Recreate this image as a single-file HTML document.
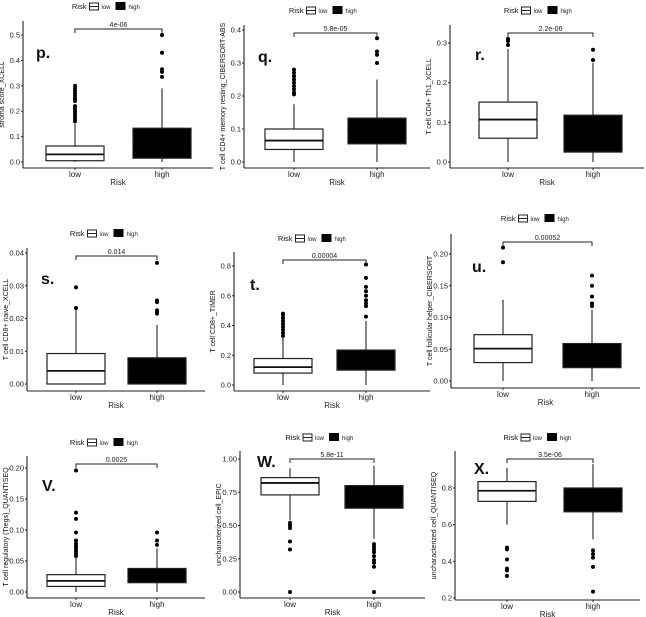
<!DOCTYPE html>
<html><head><meta charset="utf-8"><style>
body{margin:0;background:#fff;}
svg{display:block;font-family:"Liberation Sans",sans-serif;}
</style></head><body>
<svg id="fig" width="646" height="617" viewBox="0 0 646 617" xmlns="http://www.w3.org/2000/svg"></svg>
<script>
// ---- data (min, q1, median, q3, max) ----
const groups = ["low","high"];
const pLow=[0,0.005,0.03,0.063,0.15], pHigh=[0,0.015,0.06,0.133,0.29];
const pLowOut=[0.16,0.17,0.18,0.19,0.2,0.21,0.22,0.24,0.25,0.26,0.27,0.28,0.29,0.3], pHighOut=[0.335,0.355,0.365,0.43,0.5];
const pTicks=[0,0.1,0.2,0.3,0.4,0.5], pTickLabels=["0.0","0.1","0.2","0.3","0.4","0.5"];
const qLow=[0,0.038,0.065,0.1,0.175], qHigh=[0,0.055,0.1,0.133,0.25];
const qLowOut=[0.205,0.21,0.22,0.23,0.24,0.25,0.26,0.27,0.28], qHighOut=[0.3,0.325,0.335,0.375];
const qTicks=[0,0.1,0.2,0.3,0.4], qTickLabels=["0.0","0.1","0.2","0.3","0.4"];
const rLow=[0,0.06,0.107,0.151,0.285], rHigh=[0,0.025,0.095,0.118,0.25];
const rLowOut=[0.295,0.305,0.31], rHighOut=[0.257,0.283];
const rTicks=[0,0.1,0.2,0.3], rTickLabels=["0.0","0.1","0.2","0.3"];
const sLow=[0,0,0.004,0.0093,0.023], sHigh=[0,0,0.004,0.008,0.018];
const sLowOut=[0.0232,0.0295], sHighOut=[0.0215,0.022,0.0225,0.025,0.0255,0.037];
const sTicks=[0,0.01,0.02,0.03,0.04], sTickLabels=["0.00","0.01","0.02","0.03","0.04"];
const tLow=[0,0.08,0.12,0.178,0.32], tHigh=[0,0.1,0.17,0.235,0.43];
const tLowOut=[0.33,0.35,0.37,0.39,0.41,0.43,0.45,0.47,0.48], tHighOut=[0.46,0.53,0.55,0.57,0.6,0.63,0.66,0.72,0.81];
const tTicks=[0,0.2,0.4,0.6,0.8], tTickLabels=["0.0","0.2","0.4","0.6","0.8"];
const uLow=[0,0.029,0.051,0.073,0.128], uHigh=[0,0.021,0.04,0.059,0.112];
const uLowOut=[0.187,0.21], uHighOut=[0.118,0.122,0.133,0.15,0.166];
const uTicks=[0,0.05,0.1,0.15,0.2], uTickLabels=["0.00","0.05","0.10","0.15","0.20"];
const vLow=[0,0.009,0.018,0.028,0.056], vHigh=[0,0.015,0.03,0.038,0.07];
const vLowOut=[0.058,0.062,0.066,0.07,0.074,0.078,0.083,0.096,0.118,0.128,0.196], vHighOut=[0.076,0.083,0.096];
const vTicks=[0,0.05,0.1,0.15,0.2], vTickLabels=["0.00","0.05","0.10","0.15","0.20"];
const wLow=[0.54,0.73,0.82,0.86,0.93], wHigh=[0.4,0.63,0.75,0.8,0.95];
const wLowOut=[0,0.32,0.38,0.48,0.5,0.52], wHighOut=[0,0.19,0.22,0.24,0.27,0.3,0.32,0.34,0.36];
const wTicks=[0,0.25,0.5,0.75,1.0], wTickLabels=["0.00","0.25","0.50","0.75","1.00"];
const xLow=[0.6,0.727,0.785,0.835,0.91], xHigh=[0.52,0.67,0.75,0.8,0.93];
const xLowOut=[0.32,0.35,0.36,0.41,0.465,0.475], xHighOut=[0.235,0.37,0.42,0.44,0.46];
const xTicks=[0.2,0.4,0.6,0.8], xTickLabels=["0.2","0.4","0.6","0.8"];
const pvals=["4e-06","5.8e-05","2.2e-06","0.014","0.00004","0.00052","0.0025","5.8e-11","3.5e-06"];

const NS="http://www.w3.org/2000/svg";
const svg=document.getElementById('fig');
function mk(tag,attrs,parent,text){const e=document.createElementNS(NS,tag);for(const k in attrs)e.setAttribute(k,attrs[k]);if(text!==undefined)e.textContent=text;(parent||svg).appendChild(e);return e;}

const panels=[
 {id:"p",lab:"p.",yt:"stroma score_XCELL",ax:23,xy:168,right:213,v0:0,y0:162,v1:0.5,y1:35,lx:75,hx:162,ly:6,by:29,px:36,py:58,low:pLow,high:pHigh,lo:pLowOut,ho:pHighOut,t:pTicks,tl:pTickLabels,pv:pvals[0]},
 {id:"q",lab:"q.",yt:"T cell CD4+ memory resting_CIBERSORT-ABS",ax:244,xy:168,right:430,v0:0,y0:162,v1:0.4,y1:30,lx:294,hx:377,ly:10,by:33,px:258,py:62,low:qLow,high:qHigh,lo:qLowOut,ho:qHighOut,t:qTicks,tl:qTickLabels,pv:pvals[1]},
 {id:"r",lab:"r.",yt:"T cell CD4+ Th1_XCELL",ax:450,xy:168,right:644,v0:0,y0:162,v1:0.3,y1:43,lx:508,hx:593,ly:10,by:33,px:475,py:60,low:rLow,high:rHigh,lo:rLowOut,ho:rHighOut,t:rTicks,tl:rTickLabels,pv:pvals[2]},
 {id:"s",lab:"s.",yt:"T cell CD8+ naive_XCELL",ax:27,xy:391,right:205,v0:0,y0:384,v1:0.04,y1:253,lx:76,hx:157,ly:233,by:256,px:41,py:284,low:sLow,high:sHigh,lo:sLowOut,ho:sHighOut,t:sTicks,tl:sTickLabels,pv:pvals[3]},
 {id:"t",lab:"t.",yt:"T cell CD8+_TIMER",ax:234,xy:391,right:430,v0:0,y0:385,v1:0.8,y1:266,lx:283,hx:366,ly:238,by:260,px:250,py:290,low:tLow,high:tHigh,lo:tLowOut,ho:tHighOut,t:tTicks,tl:tTickLabels,pv:pvals[4]},
 {id:"u",lab:"u.",yt:"T cell follicular helper_CIBERSORT",ax:451,xy:388,right:640,v0:0,y0:381,v1:0.2,y1:254,lx:503,hx:592,ly:218,by:242,px:472,py:272,low:uLow,high:uHigh,lo:uLowOut,ho:uHighOut,t:uTicks,tl:uTickLabels,pv:pvals[5]},
 {id:"v",lab:"V.",yt:"T cell regulatory (Tregs)_QUANTISEQ",ax:27,xy:598,right:205,v0:0,y0:592,v1:0.2,y1:468,lx:76,hx:157,ly:442,by:464,px:42,py:491,low:vLow,high:vHigh,lo:vLowOut,ho:vHighOut,t:vTicks,tl:vTickLabels,pv:pvals[6]},
 {id:"w",lab:"W.",yt:"uncharacterized cell_EPIC",ax:240,xy:598,right:425,v0:0,y0:592,v1:1,y1:459,lx:290,hx:374,ly:437,by:459,px:257,py:467,low:wLow,high:wHigh,lo:wLowOut,ho:wHighOut,t:wTicks,tl:wTickLabels,pv:pvals[7]},
 {id:"x",lab:"X.",yt:"uncharacterized cell_QUANTISEQ",ax:455,xy:600,right:640,v0:0.2,y0:598,v1:0.8,y1:488,lx:507,hx:593,ly:437,by:459,px:474,py:474,low:xLow,high:xHigh,lo:xLowOut,ho:xHighOut,t:xTicks,tl:xTickLabels,pv:pvals[8]}
];

panels.forEach(P=>{
 const g=mk('g',{});
 
 
 const Y=v=>P.y0+(v-P.v0)*(P.y1-P.y0)/(P.v1-P.v0);
 const top=P.by-8;
 const ya=mk('line',{x1:P.ax,y1:top,x2:P.ax,y2:P.xy,stroke:'#222','stroke-width':1.1},g);
 
 const xa=mk('line',{x1:P.ax,y1:P.xy,x2:P.right,y2:P.xy,stroke:'#222','stroke-width':1.1},g);
 
 P.t.forEach((v,i)=>{
  mk('line',{x1:P.ax-2,y1:Y(v),x2:P.ax,y2:Y(v),stroke:'#222'},g);
  const tl=mk('text',{x:P.ax-3,y:Y(v)+2.5,'font-size':7.5,'text-anchor':'end',fill:'#222'},g,P.tl[i]);
  
 });
 [P.lx,P.hx].forEach((cx,i)=>{
  mk('line',{x1:cx,y1:P.xy,x2:cx,y2:P.xy+2,stroke:'#222'},g);
  const tl=mk('text',{x:cx,y:P.xy+9,'font-size':8,'text-anchor':'middle',fill:'#222'},g,groups[i]);
  
 });
 const xt=mk('text',{x:(P.ax+P.right)/2,y:P.xy+17,'font-size':8,'text-anchor':'middle',fill:'#222'},g,'Risk');
 
 const cy=(top+P.xy)/2, tx=P.ax-19;
 const yt=mk('text',{x:tx,y:cy,'font-size':7,'text-anchor':'middle',fill:'#111',transform:`rotate(-90 ${tx} ${cy})`},g,P.yt);
 
 [[P.low,P.lo,P.lx,'#fff','#111'],[P.high,P.ho,P.hx,'#000','#000']].forEach((d,i)=>{
  const [s,out,cx,fill,mc]=d, bw=29;
  const bg=mk('g',{},g);
  
  mk('line',{x1:cx,y1:Y(s[0]),x2:cx,y2:Y(s[4]),stroke:'#222','stroke-width':1.1},bg);
  mk('rect',{x:cx-bw,y:Y(s[3]),width:2*bw,height:Y(s[1])-Y(s[3]),fill:fill,stroke:'#222','stroke-width':1.2},bg);
  mk('line',{x1:cx-bw,y1:Y(s[2]),x2:cx+bw,y2:Y(s[2]),stroke:mc,'stroke-width':1.8},bg);
  out.forEach(v=>{
   const c=mk('circle',{cx:cx,cy:Y(v),r:2,fill:'#000'},bg);
   
  });
 });
 const br=mk('path',{d:`M${P.lx},${P.by+4}V${P.by}H${P.hx}V${P.by+4}`,fill:'none',stroke:'#222','stroke-width':1},g);
 
 const pt=mk('text',{x:(P.lx+P.hx)/2,y:P.by-2,'font-size':7,'text-anchor':'middle',fill:'#222'},g,P.pv);
 
 const pl=mk('text',{x:P.px,y:P.py,'font-size':16,'font-weight':'bold',fill:'#111'},g,P.lab);
 
 const lc=(P.lx+P.hx)/2, lg=mk('g',{},g);
 
 mk('text',{x:lc-32,y:P.ly+3,'font-size':7.5,'text-anchor':'end',fill:'#111'},lg,'Risk');
 mk('rect',{x:lc-29,y:P.ly-3,width:9,height:7,fill:'#fff',stroke:'#222'},lg);
 mk('line',{x1:lc-29,y1:P.ly+0.5,x2:lc-20,y2:P.ly+0.5,stroke:'#222'},lg);
 mk('text',{x:lc-17,y:P.ly+3,'font-size':6,fill:'#222'},lg,'low');
 mk('rect',{x:lc-3,y:P.ly-4,width:10,height:8,fill:'#000'},lg);
 mk('text',{x:lc+10,y:P.ly+3,'font-size':6,fill:'#222'},lg,'high');
});
</script>
</body></html>
